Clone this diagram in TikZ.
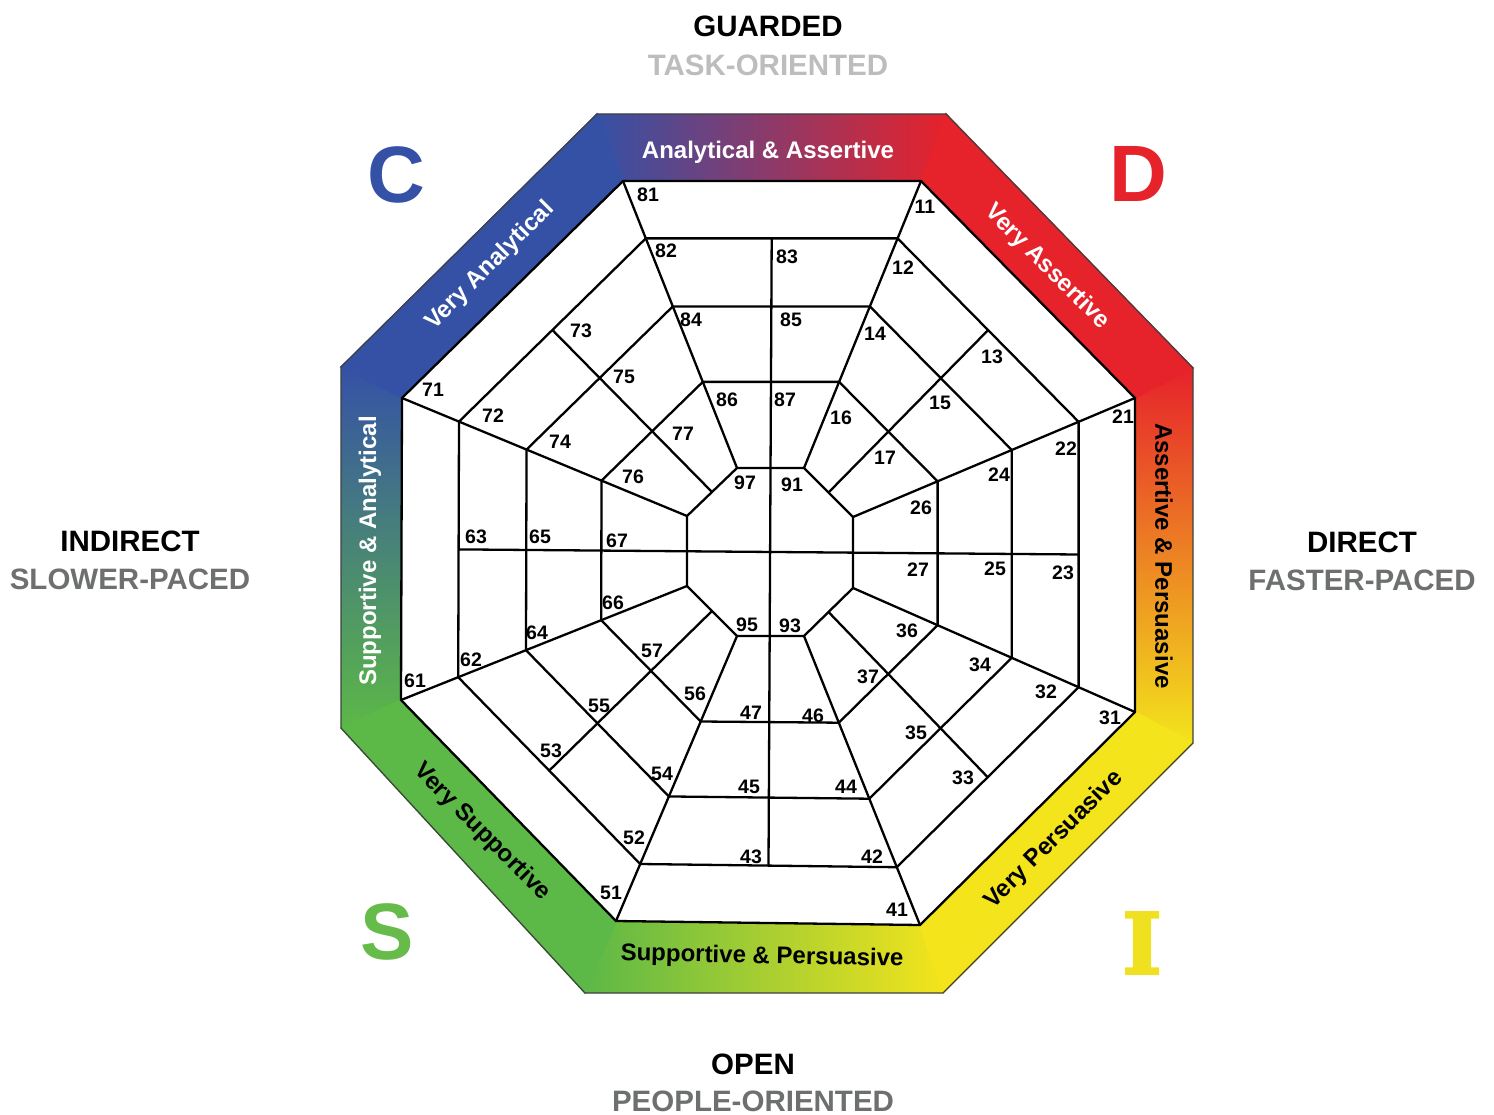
\documentclass[tikz,border=0pt]{standalone}
\usepackage{fontspec}
\setmainfont{Liberation Sans}
\newfontfamily\slabfont[BoldFeatures={FakeBold=3}]{DejaVu Serif}
\usetikzlibrary{calc}
\definecolor{cblue}{HTML}{3551A6}
\definecolor{cred}{HTML}{E6222B}
\definecolor{cyellow}{HTML}{F3E41C}
\definecolor{cgreen}{HTML}{5CB847}
\definecolor{cpurple}{HTML}{7A2B9E}
\definecolor{corange}{HTML}{F58220}
\definecolor{cteal}{HTML}{2A8F9E}
\definecolor{cyg}{HTML}{A9CF38}
\definecolor{lightgr}{HTML}{BDBDBD}
\definecolor{midgr}{HTML}{6E7070}
\definecolor{sgreen}{HTML}{66BB4A}
\definecolor{iyellow}{HTML}{EFE020}
\begin{document}
\begin{tikzpicture}[x=1pt,y=-1pt,
  num/.style={font=\fontsize{19.5}{20}\selectfont\bfseries, inner sep=0pt},
  grid/.style={line width=2.3pt, draw=black},
  band/.style={font=\fontsize{24}{26}\selectfont\bfseries, inner sep=0pt},
  axis/.style={font=\fontsize{29.5}{30}\selectfont\bfseries, inner sep=0pt},
  big/.style={font=\fontsize{80}{80}\selectfont\bfseries, inner sep=0pt}]
\useasboundingbox (0,0) rectangle (1494,1115);
% outer octagon
\coordinate (O1) at (597,114); \coordinate (O2) at (946,114);
\coordinate (O3) at (1193,368); \coordinate (O4) at (1193,743);
\coordinate (O5) at (943,993); \coordinate (O6) at (585,993);
\coordinate (O7) at (341,728); \coordinate (O8) at (341,367);
% inner boundary
\coordinate (B1) at (623,181); \coordinate (B2) at (921,181);
\coordinate (B3) at (1135,398); \coordinate (B4) at (1135,712);
\coordinate (B5) at (920,925); \coordinate (B6) at (616,921);
\coordinate (B7) at (401,700); \coordinate (B8) at (402,398);
% central small octagon
\coordinate (S1) at (737,468); \coordinate (S2) at (804,468);
\coordinate (S3) at (853,517); \coordinate (S4) at (853,588);
\coordinate (S5) at (804,636); \coordinate (S6) at (737,636);
\coordinate (S7) at (687,586); \coordinate (S8) at (687,516);
% coloured band
\shade[left color=cblue, middle color=cpurple, right color=cred] (O1) -- (O2) -- (B2) -- (B1) -- cycle;
\shade[top color=cred, middle color=corange, bottom color=cyellow] (O3) -- (O4) -- (B4) -- (B3) -- cycle;
\shade[left color=cgreen, middle color=cyg, right color=cyellow] (O5) -- (O6) -- (B6) -- (B5) -- cycle;
\shade[top color=cblue, middle color=cteal, bottom color=cgreen] (O7) -- (O8) -- (B8) -- (B7) -- cycle;
\filldraw[fill=cred, draw=cred, line width=1.5pt] (O2) -- (O3) -- (B3) -- (B2) -- cycle;
\filldraw[fill=cyellow, draw=cyellow, line width=1.5pt] (O4) -- (O5) -- (B5) -- (B4) -- cycle;
\filldraw[fill=cgreen, draw=cgreen, line width=1.5pt] (O6) -- (O7) -- (B7) -- (B6) -- cycle;
\filldraw[fill=cblue, draw=cblue, line width=1.5pt] (O8) -- (O1) -- (B1) -- (B8) -- cycle;
\draw[line width=1.2pt, black!75] (O1) -- (O2) -- (O3) -- (O4) -- (O5) -- (O6) -- (O7) -- (O8) -- cycle;
% rings
\foreach \i in {1,...,8} {
  \coordinate (Ra\i) at ($(B\i)!0.2!(S\i)$);
  \coordinate (Rb\i) at ($(B\i)!0.437!(S\i)$);
  \coordinate (Rc\i) at ($(B\i)!0.70!(S\i)$);
}
\foreach \i/\j in {1/2,2/3,3/4,4/5,5/6,6/7,7/8,8/1} {
  \coordinate (Ma\i) at ($(Ra\i)!0.5!(Ra\j)$);
  \coordinate (Ms\i) at ($(S\i)!0.5!(S\j)$);
}
\draw[grid, fill=white] (B1) -- (B2) -- (B3) -- (B4) -- (B5) -- (B6) -- (B7) -- (B8) -- cycle;
\foreach \r in {Ra,Rb,Rc,S}
  \draw[grid] (\r1) -- (\r2) -- (\r3) -- (\r4) -- (\r5) -- (\r6) -- (\r7) -- (\r8) -- cycle;
\foreach \i in {1,...,8} \draw[grid] (B\i) -- (S\i);
\draw[grid] (Ma1) -- (Ma5);
\draw[grid] (Ma7) -- (Ma3);
\foreach \i in {2,4,6,8} \draw[grid] (Ma\i) -- (Ms\i);
% cell numbers
\foreach \n/\x/\y in {81/648/195,11/925/207,82/666/251,83/787/257,12/903/268,
  84/691/320,85/791/320,14/875/334,73/581/331,13/992/357,75/624/377,71/433/390,
  15/940/403,86/727/400,87/785/400,16/841/418,21/1123/417,72/493/416,74/560/442,
  77/683/434,22/1066/449,17/885/458,24/999/475,97/745/483,91/792/485,76/633/477,
  26/921/508,63/476/537,65/540/537,67/617/541,27/918/570,25/995/569,23/1063/573,
  66/613/603,95/747/625,93/790/626,36/907/631,64/537/633,34/980/665,62/471/660,
  57/652/651,37/868/677,61/415/681,32/1046/692,56/695/694,31/1110/718,55/599/706,
  47/751/713,46/813/716,35/916/733,53/551/751,54/662/774,45/749/787,44/846/787,
  33/963/778,52/634/838,43/751/857,42/872/857,51/611/893,41/897/910}
  \node[num] (n\n) at (\x,\y) {\n};
% band labels
\node[band, white] (bt) at (768,152) {Analytical \& Assertive};
\node[band, white, rotate=45] (bul) at (490,266) {Very Analytical};
\node[band, white, rotate=-45] (bur) at (1047,267) {Very Assertive};
\node[band, black, rotate=-90] (br) at (1164,556) {Assertive \& Persuasive};
\node[band, black, rotate=45] (blr) at (1054,840) {Very Persuasive};
\node[band, black, rotate=-1.2] (bb) at (762,957) {Supportive \& Persuasive};
\node[band, black, rotate=-45] (bll) at (482,832) {Very Supportive};
\node[band, white, rotate=90] (bl) at (370,551) {Supportive \& Analytical};
% corner letters
\node[big, cblue] (lc) at (396,175) {C};
\node[big, cred] (ld) at (1138,174) {D};
\node[big, sgreen] (ls) at (387,932) {S};
\node[inner sep=0pt, iyellow, font=\slabfont\fontsize{84}{84}\selectfont\bfseries] (li) at (1142,943) {I};
% axis labels
\node[axis, black] (g1) at (768,26) {GUARDED};
\node[axis, lightgr] (g2) at (768,65) {TASK-ORIENTED};
\node[axis, black] (i1) at (130,541) {INDIRECT};
\node[axis, midgr] (i2) at (130,579) {SLOWER-PACED};
\node[axis, black] (d1) at (1362,542) {DIRECT};
\node[axis, midgr] (d2) at (1362,580) {FASTER-PACED};
\node[axis, black] (o1) at (753,1064) {OPEN};
\node[axis, midgr] (o2) at (753,1101) {PEOPLE-ORIENTED};
\end{tikzpicture}
\end{document}
